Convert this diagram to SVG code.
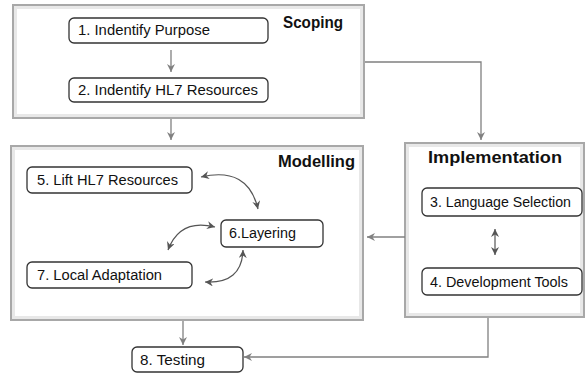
<svg xmlns="http://www.w3.org/2000/svg" width="587" height="374" viewBox="0 0 587 374">
<style>
.cont{fill:#fff;stroke:#a8a8a8;stroke-width:2}
.inner{fill:none;stroke:#e8e8e8;stroke-width:3}
.node rect{fill:#fff;stroke:#333;stroke-width:1.3}
.t{font-family:"Liberation Sans",Arial,sans-serif;font-size:14px;fill:#111}
.lbl{font-family:"Liberation Sans",Arial,sans-serif;font-size:16px;font-weight:bold;fill:#111}
.c{fill:none;stroke:#808080;stroke-width:1.3}
.cv{fill:none;stroke:#555;stroke-width:1.2}
</style>
<defs>
<marker id="ah" markerWidth="10" markerHeight="10" refX="8" refY="4" orient="auto" markerUnits="userSpaceOnUse">
<path d="M0,0 L8,4 L0,8 L2.5,4 z" fill="#808080"/>
</marker>
<marker id="ahd" markerWidth="10" markerHeight="10" refX="8" refY="4" orient="auto-start-reverse" markerUnits="userSpaceOnUse">
<path d="M0,0 L8,4 L0,8 L2.5,4 z" fill="#555"/>
</marker>
</defs>

<g id="scoping">
<rect class="cont" x="13" y="5" width="351" height="113"/>
<rect class="inner" x="15.5" y="7.5" width="346" height="108"/>
<text class="lbl" x="283" y="28" textLength="60" lengthAdjust="spacingAndGlyphs">Scoping</text>
</g>
<g id="modelling">
<rect class="cont" x="11" y="146" width="352" height="174"/>
<rect class="inner" x="13.5" y="148.5" width="347" height="169"/>
<text class="lbl" x="278" y="167" textLength="77" lengthAdjust="spacingAndGlyphs">Modelling</text>
</g>
<g id="implementation">
<rect class="cont" x="405" y="143" width="179" height="174"/>
<rect class="inner" x="407.5" y="145.5" width="174" height="169"/>
<text class="lbl" x="428" y="163" textLength="134" lengthAdjust="spacingAndGlyphs">Implementation</text>
</g>

<g id="n1" class="node"><rect x="69" y="18" width="199" height="25" rx="5"/><text class="t" x="78" y="35" textLength="132" lengthAdjust="spacingAndGlyphs">1. Indentify Purpose</text></g>
<g id="n2" class="node"><rect x="69" y="78" width="199" height="24" rx="5"/><text class="t" x="78" y="95" textLength="180" lengthAdjust="spacingAndGlyphs">2. Indentify HL7 Resources</text></g>
<g id="n5" class="node"><rect x="27" y="167" width="165" height="26" rx="5"/><text class="t" x="37" y="185" textLength="141" lengthAdjust="spacingAndGlyphs">5. Lift HL7 Resources</text></g>
<g id="n6" class="node"><rect x="221" y="220" width="102" height="27" rx="5"/><text class="t" x="229" y="238" textLength="67" lengthAdjust="spacingAndGlyphs">6.Layering</text></g>
<g id="n7" class="node"><rect x="27" y="262" width="165" height="26" rx="5"/><text class="t" x="37" y="280" textLength="125" lengthAdjust="spacingAndGlyphs">7. Local Adaptation</text></g>
<g id="n3" class="node"><rect x="422" y="188" width="160" height="28" rx="5"/><text class="t" x="430" y="207" textLength="141" lengthAdjust="spacingAndGlyphs">3. Language Selection</text></g>
<g id="n4" class="node"><rect x="422" y="268" width="160" height="27" rx="5"/><text class="t" x="430" y="287" textLength="138" lengthAdjust="spacingAndGlyphs">4. Development Tools</text></g>
<g id="n8" class="node"><rect x="132" y="347" width="111" height="25" rx="5"/><text class="t" x="140" y="365" textLength="65" lengthAdjust="spacingAndGlyphs">8. Testing</text></g>

<g id="connectors">
<path class="c" d="M171,50 V72" marker-end="url(#ah)"/>
<path class="c" d="M171,119 V140" marker-end="url(#ah)"/>
<path class="c" d="M365,62 H481 V140" marker-end="url(#ah)"/>
<path class="c" d="M405,237 H367" marker-end="url(#ah)"/>
<path class="c" d="M488,318 V357 H244" marker-end="url(#ah)"/>
<path class="c" d="M183,321 V345" marker-end="url(#ah)"/>
<path class="cv" d="M495,229 V255" marker-start="url(#ahd)" marker-end="url(#ahd)"/>
<path class="cv" d="M201,177 Q248,166 258,209" marker-start="url(#ahd)" marker-end="url(#ahd)"/>
<path class="cv" d="M215,227 Q180,218 168,250" marker-start="url(#ahd)" marker-end="url(#ahd)"/>
<path class="cv" d="M243,250 Q242,284 205,282" marker-start="url(#ahd)" marker-end="url(#ahd)"/>
</g>
</svg>
